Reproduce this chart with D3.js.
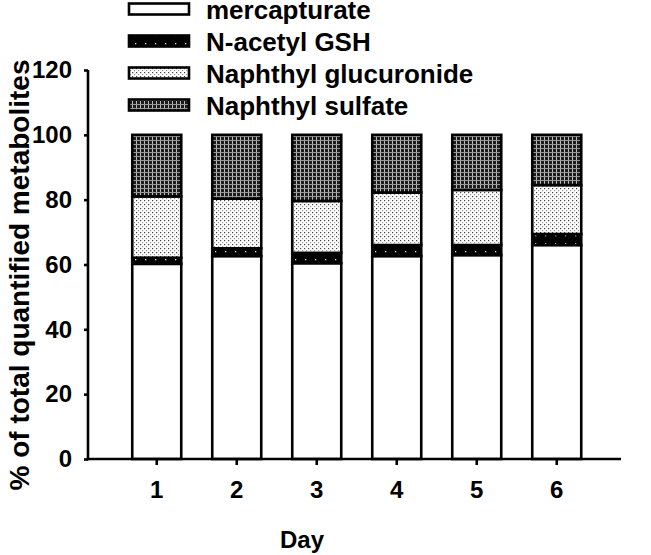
<!DOCTYPE html>
<html>
<head>
<meta charset="utf-8">
<script src="https://cdn.jsdelivr.net/npm/d3@7"></script>
<style>
  html, body { margin: 0; padding: 0; background: #fff; }
  svg { display: block; font-family: "Liberation Sans", Arial, sans-serif; font-weight: bold; }
</style>
</head>
<body>
<svg id="chart" width="651" height="555"></svg>
<script>
// ---- data ----
const days = ["1", "2", "3", "4", "5", "6"];
const seriesNames = ["mercapturate", "N-acetyl GSH", "Naphthyl glucuronide", "Naphthyl sulfate"];
const mercapturate = [60.2, 62.6, 60.4, 62.6, 62.9, 66.0];
const nAcetylGSH = [1.9, 2.4, 3.2, 3.4, 3.1, 3.4];
const naphthylGlucuronide = [18.9, 15.3, 16.0, 16.2, 17.0, 15.1];
const naphthylSulfate = [19.0, 19.7, 20.4, 17.8, 17.0, 15.5];
const yTicks = [0, 20, 40, 60, 80, 100, 120];
const xTitle = "Day";
const yTitle = "% of total quantified metabolites";

// ---- build table ----
const seriesValues = [mercapturate, nAcetylGSH, naphthylGlucuronide, naphthylSulfate];
const table = days.map((d, i) => {
  const row = { day: d };
  seriesNames.forEach((s, j) => row[s] = seriesValues[j][i]);
  return row;
});
const stacked = d3.stack().keys(seriesNames)(table);

const svg = d3.select("#chart");

// ---- patterns ----
const defs = svg.append("defs");
const pNac = defs.append("pattern").attr("id", "p1").attr("patternUnits", "userSpaceOnUse")
  .attr("width", 10).attr("height", 8);
pNac.append("rect").attr("width", 10).attr("height", 8).attr("fill", "#000");
pNac.append("rect").attr("x", 5).attr("y", 3).attr("width", 1.3).attr("height", 1.3).attr("fill", "#ddd");

const pGluc = defs.append("pattern").attr("id", "p2").attr("patternUnits", "userSpaceOnUse")
  .attr("width", 4).attr("height", 4);
pGluc.append("rect").attr("width", 4).attr("height", 4).attr("fill", "#fff");
pGluc.append("rect").attr("x", 0).attr("y", 0).attr("width", 1.2).attr("height", 1.2).attr("fill", "#444");
pGluc.append("rect").attr("x", 2).attr("y", 2).attr("width", 1.2).attr("height", 1.2).attr("fill", "#999");

const pSulf = defs.append("pattern").attr("id", "p3").attr("patternUnits", "userSpaceOnUse")
  .attr("width", 4).attr("height", 4);
pSulf.append("rect").attr("width", 4).attr("height", 4).attr("fill", "#1c1c1c");
pSulf.append("rect").attr("x", 0).attr("y", 0).attr("width", 1).attr("height", 4).attr("fill", "#bbb");
pSulf.append("rect").attr("x", 0).attr("y", 0).attr("width", 4).attr("height", 1).attr("fill", "#999");

const fills = ["#fff", "url(#p1)", "url(#p2)", "url(#p3)"];

// ---- scales ----
const y = d3.scaleLinear().domain([0, 120]).range([459, 70]);
const x = d3.scaleBand().domain(days).range([108.25, 605.25]).paddingInner(0.3875).paddingOuter(0.3);

// ---- bars ----
const g = svg.append("g");
stacked.forEach((layer, k) => {
  g.selectAll(null).data(layer).enter().append("rect")
    .attr("x", d => x(d.data.day))
    .attr("y", d => y(d[1]))
    .attr("width", x.bandwidth())
    .attr("height", d => y(d[0]) - y(d[1]))
    .attr("fill", fills[k])
    .attr("stroke", "#000")
    .attr("stroke-width", 2.6);
});

// ---- axes ----
const yAxis = svg.append("g").attr("transform", "translate(88,0)")
  .call(d3.axisLeft(y).tickValues(yTicks).tickSize(4).tickPadding(12));
yAxis.select(".domain").remove();
yAxis.selectAll(".tick line").attr("stroke", "#000").attr("stroke-width", 2.6);
yAxis.selectAll(".tick text").attr("font-size", 24).attr("font-weight", "bold").attr("fill", "#000")
  .attr("font-family", "Liberation Sans, Arial, sans-serif");
svg.append("line").attr("x1", 88).attr("x2", 88).attr("y1", y(120)).attr("y2", y(0) + 1.3)
  .attr("stroke", "#000").attr("stroke-width", 2.6);

const xAxis = svg.append("g").attr("transform", "translate(0,459)")
  .call(d3.axisBottom(x).tickSize(6).tickPadding(16));
xAxis.select(".domain").remove();
xAxis.selectAll(".tick line").attr("stroke", "#000").attr("stroke-width", 2.6);
xAxis.selectAll(".tick text").attr("font-size", 24).attr("font-weight", "bold").attr("fill", "#000")
  .attr("font-family", "Liberation Sans, Arial, sans-serif");
svg.append("line").attr("x1", 86.7).attr("x2", 621).attr("y1", 459).attr("y2", 459)
  .attr("stroke", "#000").attr("stroke-width", 2.6);

// ---- titles ----
svg.append("text").attr("x", 302).attr("y", 548).attr("text-anchor", "middle")
  .attr("font-size", 24).text(xTitle);
svg.append("text").attr("transform", "translate(29,275) rotate(-90)").attr("text-anchor", "middle")
  .attr("font-size", 28).text(yTitle);

// ---- legend ----
const leg = svg.append("g");
seriesNames.forEach((s, i) => {
  const cy = 9 + i * 32;
  leg.append("rect").attr("x", 129).attr("y", cy - 5.5).attr("width", 60).attr("height", 11)
    .attr("fill", fills[i]).attr("stroke", "#000").attr("stroke-width", 2.6);
  leg.append("text").attr("x", 206).attr("y", cy + 10).attr("font-size", 26).text(s);
});
</script>
</body>
</html>
